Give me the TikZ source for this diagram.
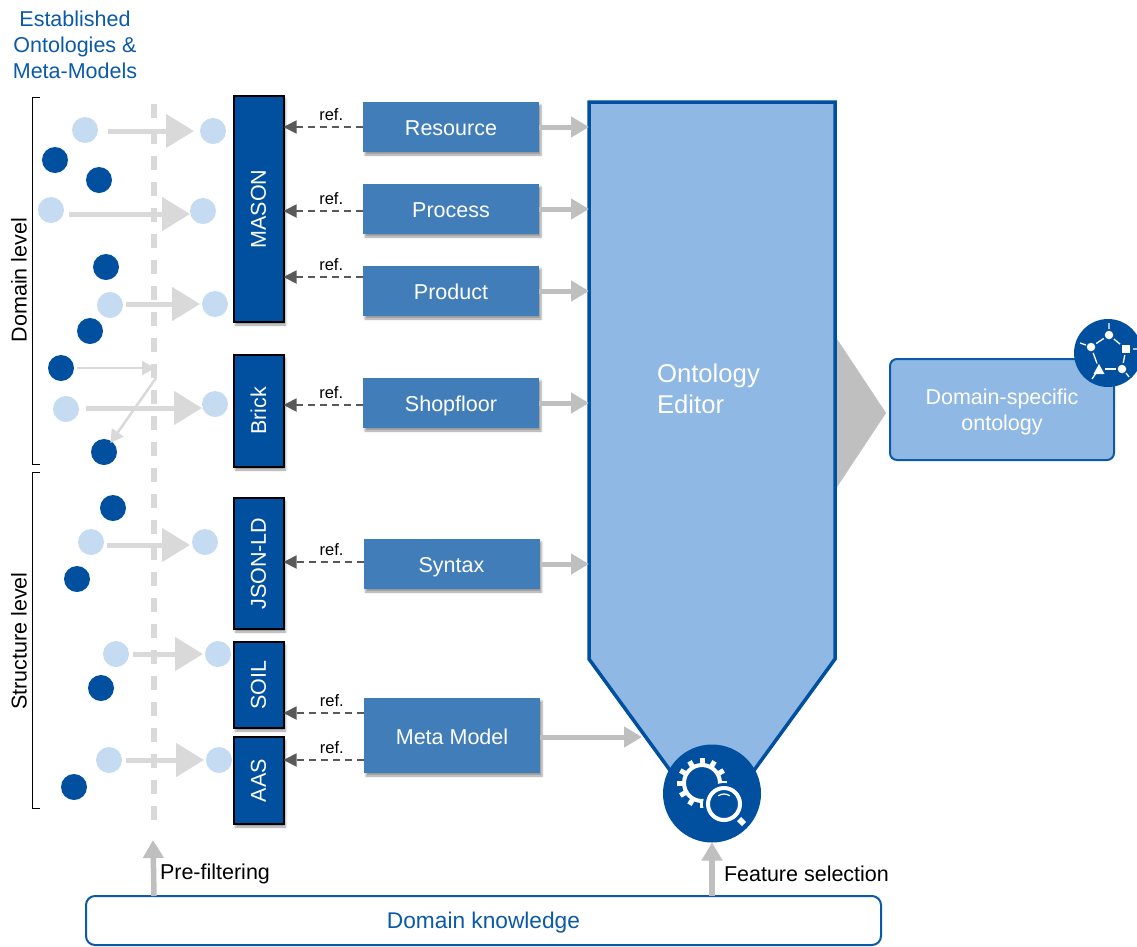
\documentclass[tikz,border=0pt]{standalone}
\usepackage{fontspec}
\setmainfont{Liberation Sans}
\usetikzlibrary{arrows.meta,shadows.blur,calc}
\definecolor{deepblue}{HTML}{00509F}
\definecolor{midblue}{HTML}{417DB8}
\definecolor{paleblue}{HTML}{8FB8E4}
\definecolor{dotblue}{HTML}{C5DBF1}
\definecolor{edgeblue}{HTML}{0A5AA8}
\definecolor{softgray}{HTML}{D9D9D9}
\definecolor{flowgray}{HTML}{BFBFBF}
\definecolor{refgray}{HTML}{595959}
\begin{document}
\begin{tikzpicture}[
    x=1pt, y=-1pt,
    every node/.style={inner sep=0pt, outer sep=0pt, font={\fontsize{21.5}{26}\selectfont}},
    lightdot/.style={circle, fill=dotblue, minimum size=26pt},
    darkdot/.style={circle, fill=deepblue, minimum size=26pt},
    standard/.style={draw=black, line width=2pt, fill=deepblue, text=white, minimum width=50pt,
      blur shadow={shadow xshift=2pt, shadow yshift=-3pt, shadow blur steps=4, shadow blur radius=2pt}},
    aspect/.style={fill=midblue, text=white, minimum width=176pt, minimum height=50pt, text height=17.5pt, text depth=0pt,
      blur shadow={shadow xshift=2pt, shadow yshift=-3pt, shadow blur steps=4, shadow blur radius=2pt}},
    filterflow/.style={softgray, line width=5pt, -{Triangle[width=33pt,length=28pt]}},
    filterthin/.style={softgray, line width=2.5pt, -{Triangle[width=14pt,length=13pt]}},
    refline/.style={refgray, line width=1.8pt, dash pattern=on 7pt off 5pt, -{Triangle[width=13pt,length=13pt]}},
    reflabel/.style={pos=.4, above=6pt, text=black, font={\fontsize{16.5}{20}\selectfont}},
    feed/.style={flowgray, line width=5pt, -{Triangle[width=20pt,length=18pt]}},
    rise/.style={flowgray, line width=5.5pt, -{Triangle[width=20pt,length=18pt]}}
  ]
  \useasboundingbox (0,0) rectangle (1137,946);
  \clip (0,0) rectangle (1137,946);

  \node[align=center, text=edgeblue] (sources) at (75,45) {Established\\Ontologies \&\\Meta-Models};
  \draw[line width=.8pt] (40,97) -- (32,97) -- (32,464) -- (40,464);
  \draw[line width=.8pt] (40,472) -- (32,472) -- (32,808) -- (40,808);
  \node (domainlevel) at (19,280) {\rotatebox{90}{Domain level}};
  \node (structurelevel) at (19,641) {\rotatebox{90}{Structure level}};

  \coordinate (filtertop) at (154,104);
  \coordinate (filterend) at (154,822);
  \coordinate (filterhit) at (155,368);
  \coordinate (filterout) at (156,378);
  \draw[softgray, line width=5.5pt, dash pattern=on 14pt off 12pt] (filtertop) -- (filterend);

  \foreach \name/\x/\y in {a/85/130, at/213/131, b/51/210, bt/203/211, c/110/305, ct/215/304,
      e/66/409, et/215/404, f/91/542, ft/205/542, g/116/654, gt/218/654, h/109/760, ht/219/760}
    \node[lightdot] (\name) at (\x,\y) {};
  \foreach \name/\x/\y in {p/55/160, q/99/180, r/106/267, s/90/331, u/61/368, v/104/452,
      w/113/508, z/77/579, m/101/688, n/74/787}
    \node[darkdot] (\name) at (\x,\y) {};
  \foreach \from/\to/\gap/\dy/\tipgap in {a/at/10/-1/6, b/bt/5/-4/0, c/ct/3/1/2, e/et/7/1/0, f/ft/3/-3/2, g/gt/4/0/2, h/ht/4/0/2}
    \draw[filterflow, shorten <=\gap pt, shorten >=\tipgap pt] ([yshift=\dy pt]\from.east) -- ([yshift=\dy pt]\from.east -| \to.west);
  \draw[filterthin, shorten <=3pt] (u.east) -- (filterhit);
  \draw[filterthin, shorten >=-2pt] (filterout) -- (v);

  \node[standard, minimum height=226pt] (mason) at (258.5,209) {\rotatebox{90}{MASON}};
  \node[standard, minimum height=112pt] (brick) at (258.5,411) {\rotatebox{90}{Brick}};
  \node[standard, minimum height=131pt] (jsonld) at (258.5,563.5) {\rotatebox{90}{JSON-LD}};
  \node[standard, minimum height=86pt] (soil) at (258.5,685) {\rotatebox{90}{SOIL}};
  \node[standard, minimum height=87pt] (aas) at (258.5,780.5) {\rotatebox{90}{AAS}};

  \node[aspect] (resource) at (451,127) {Resource};
  \node[aspect] (process) at (451,209) {Process};
  \node[aspect] (product) at (451,291) {Product};
  \node[aspect] (shopfloor) at (451,403) {Shopfloor};
  \node[aspect] (syntax) at (451.5,564) {Syntax};
  \node[aspect, minimum height=75pt] (metamodel) at (452,735.5) {Meta Model};

  \draw[refline] (resource.west) -- (resource.west -| mason.east) node[reflabel] (refa) {ref.};
  \draw[refline] ([yshift=-2pt]process.west) -- ([yshift=-2pt]process.west -| mason.east) node[reflabel] (refb) {ref.};
  \draw[refline] ([yshift=14pt]product.west) -- ([yshift=14pt]product.west -| mason.east) node[reflabel] (refc) {ref.};
  \draw[refline] ([yshift=-2pt]shopfloor.west) -- ([yshift=-2pt]shopfloor.west -| brick.east) node[reflabel] (refd) {ref.};
  \draw[refline] ([yshift=2pt]syntax.west) -- ([yshift=2pt]syntax.west -| jsonld.east) node[reflabel] (refe) {ref.};
  \draw[refline] ([yshift=22.5pt]metamodel.west) -- ([yshift=22.5pt]metamodel.west -| soil.east) node[reflabel] (reff) {ref.};
  \draw[refline] ([yshift=-24.5pt]metamodel.west) -- ([yshift=-24.5pt]metamodel.west -| aas.east) node[reflabel] (refg) {ref.};

  \draw[draw=deepblue, line width=3.5pt, fill=paleblue, line join=miter]
    (589,102) -- (835,102) -- (835,659) -- (712,828) -- (589,659) -- cycle;
  \node[minimum width=246pt, minimum height=557pt] (editor) at (712,380.5) {};
  \node[anchor=west, align=left, text=white, font={\fontsize{25.7}{30.5}\selectfont}] (editorlabel) at (657,389) {Ontology\\Editor};
  \coordinate (editorslant) at (642,737);

  \foreach \from in {resource, process, product, shopfloor, syntax}
    \draw[feed] (\from.east) -- (\from.east -| editor.west);
  \draw[feed] (metamodel.east |- editorslant) -- (editorslant);

  \node[circle, fill=deepblue, minimum size=98pt] (selector) at (712,793.5) {};
  \foreach \angle in {0,30,...,330}
    \draw[white, line width=5pt] (702,783) ++(\angle:17) -- ++(\angle:8);
  \draw[white, line width=4pt] (702,783) circle (18);
  \fill[deepblue] (724,804) circle (21);
  \draw[white, line width=4pt] (724,804) circle (16);
  \draw[white, line width=6pt] (739,819) -- (744,824);
  \draw[white, line width=1.3pt] (718.3,795.8) arc[start angle=-125, end angle=-55, radius=10];

  \node[rounded corners=7pt, draw=edgeblue, line width=2pt, fill=paleblue, text=white, align=center, text depth=-1pt,
    minimum width=224pt, minimum height=101pt] (output) at (1002,409.5) {Domain-specific\\ontology};
  \draw[flowgray, line width=.2pt, shorten <=3pt, shorten >=4pt, -{Triangle[width=148pt,length=49pt]}]
    ([yshift=-3.5pt]output.west -| editor.east) -- ([yshift=-3.5pt]output.west);

  \node[circle, fill=deepblue, minimum size=68pt] (network) at (1108,353) {};
  \foreach \name/\x/\y in {na/1109/335, nb/1122/369, nc/1091/347}
    \node[circle, fill=white, minimum size=8.5pt, outer sep=2pt] (\name) at (\x,\y) {};
  \node[fill=white, minimum size=8pt, outer sep=2pt] (nd) at (1126,349) {};
  \node[minimum size=9pt, outer sep=1pt] (ne) at (1099,369) {};
  \fill[white] (1093.5,374) -- (1104.5,374) -- (1099,364) -- cycle;
  \foreach \from/\to in {na/nd, nd/nb, nb/ne, ne/nc, nc/na}
    \draw[white, line width=1.3pt] (\from) -- (\to);
  \draw[white, line width=1.3pt] (1109,323) -- (1109,329) (1133,349) -- (1137,349)
    (1126,373) -- (1129,377) (1096,373) -- (1092,379) (1086,345) -- (1080,343);

  \node[rounded corners=9pt, draw=edgeblue, line width=2pt, fill=white, text=edgeblue, text depth=0pt,
    font={\fontsize{22.7}{27}\selectfont}, minimum width=795pt, minimum height=49pt] (knowledge) at (483.5,920.5) {Domain knowledge};
  \draw[rise] (knowledge.north -| filterend) -- (153,840);
  \draw[rise] (knowledge.north -| selector) -- (selector.south);
  \node[anchor=west] (prefilter) at (160,874) {Pre-filtering};
  \node[anchor=west] (featuresel) at (724,874) {Feature selection};
\end{tikzpicture}
\end{document}
